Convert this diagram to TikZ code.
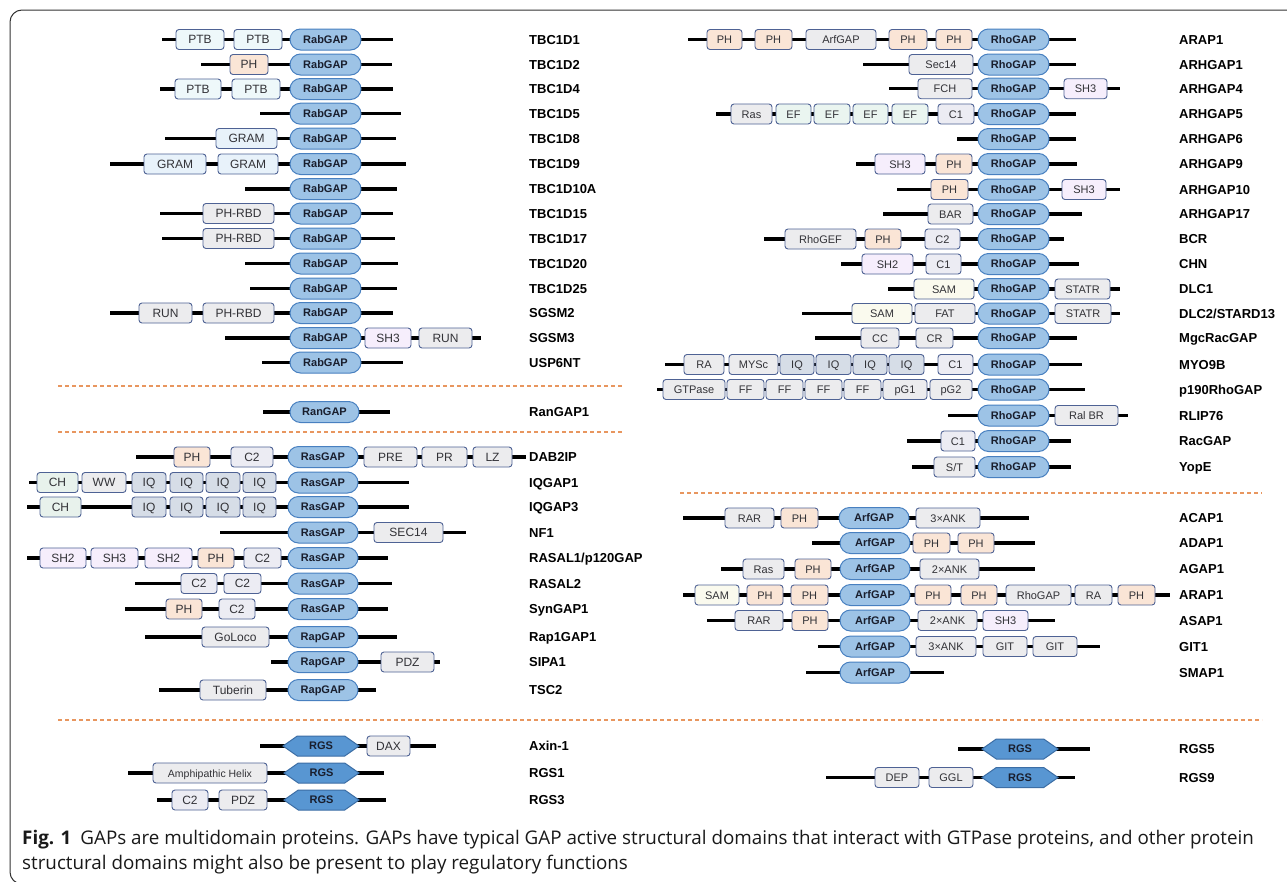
\documentclass[tikz,border=0pt]{standalone}
\usepackage{fontspec}
\setmainfont{Liberation Sans}
\newfontfamily\capfont{Open Sans}
\usetikzlibrary{shapes.symbols}
\definecolor{domline}{RGB}{78,98,148}
\definecolor{domtext}{RGB}{50,50,55}
\definecolor{gapline}{RGB}{72,128,192}
\definecolor{gapfill}{RGB}{157,195,230}
\definecolor{gaptext}{RGB}{25,30,45}
\definecolor{rgsline}{RGB}{60,110,165}
\definecolor{rgsfill}{RGB}{88,150,210}
\definecolor{sepcol}{RGB}{232,150,95}
\definecolor{cPTB}{RGB}{238,248,250}
\definecolor{cPH}{RGB}{250,229,214}
\definecolor{cGRAM}{RGB}{232,242,250}
\definecolor{cGRY}{RGB}{236,236,238}
\definecolor{cIQ}{RGB}{214,221,231}
\definecolor{cCH}{RGB}{232,242,236}
\definecolor{cSH}{RGB}{246,238,252}
\definecolor{cC}{RGB}{236,236,243}
\definecolor{cSAM}{RGB}{250,250,238}
\definecolor{cEF}{RGB}{234,245,240}
\def\domfs{12}
\tikzset{
  bb/.style={line width=3.5pt, black},
  dom/.style={draw=domline, line width=0.9pt, rounded corners=3pt, minimum height=20pt,
    inner sep=0pt, text height=8.4pt, text depth=0pt, font=\fontsize{\domfs}{14}\selectfont, text=domtext},
  ptb/.style={dom, fill=cPTB},
  ph/.style={dom, fill=cPH},
  gram/.style={dom, fill=cGRAM},
  gry/.style={dom, fill=cGRY},
  iq/.style={dom, fill=cIQ},
  ch/.style={dom, fill=cCH},
  sh/.style={dom, fill=cSH},
  cc/.style={dom, fill=cC},
  sam/.style={dom, fill=cSAM},
  ef/.style={dom, fill=cEF},
  gap/.style={draw=gapline, fill=gapfill, line width=1pt, rounded corners=10.5pt, minimum height=21pt,
    inner sep=0pt, text height=7.9pt, text depth=0pt, font=\bfseries\fontsize{11}{13}\selectfont, text=gaptext},
  rgs/.style={signal, signal to=east and west, signal pointer angle=70, draw=rgsline, fill=rgsfill,
    line width=1pt, minimum height=20pt, inner sep=0pt, text height=7.9pt, text depth=0pt,
    font=\bfseries\fontsize{11}{13}\selectfont, text=gaptext},
  rowlbl/.style={anchor=base west, inner sep=0pt, font=\bfseries\fontsize{13}{15}\selectfont, text=black},
  sepline/.style={draw=sepcol, line width=1.3pt, dash pattern=on 4pt off 3pt},
  frameline/.style={draw=black!80, line width=1pt, rounded corners=12pt},
  captxt/.style={anchor=base west, inner sep=0pt, font=\capfont\fontsize{18.8}{21}\selectfont, text=black!90},
}
\newcommand\Row[5]{\def\rowY{#2}\coordinate (#1s) at (#3,#2); \coordinate (#1e) at (#4,#2);
  \draw[bb] (#1s) -- (#1e); \node[rowlbl] (#1l) at (\LX,{#2+4.7}) {#5};}
\newcommand\Dom[5]{\node[#1, minimum width={(#4-#3)*1pt}] (#2) at ({(#3+#4)/2},\rowY) {#5};}
\begin{document}
\begin{tikzpicture}[x=1pt,y=-1pt]
\useasboundingbox (0,0) rectangle (1287,881);
\clip (0,0) rectangle (1287,881);
\fill[white] (0,0) rectangle (1287,881);
\draw[frameline] (1300,10) -- (10,10) -- (10,884) -- (1300,884);
% ---------------- left column ----------------
\def\LX{529}
\Row{a1}{39.5}{162}{393}{TBC1D1}
\Dom{ptb}{a1a}{176}{224}{PTB}\Dom{ptb}{a1b}{234}{282}{PTB}\Dom{gap}{a1g}{290}{361}{RabGAP}
\Row{a2}{64.5}{201}{392}{TBC1D2}
\Dom{ph}{a2a}{230}{268}{PH}\Dom{gap}{a2g}{290}{361}{RabGAP}
\Row{a3}{89}{160}{393}{TBC1D4}
\Dom{ptb}{a3a}{175}{221}{PTB}\Dom{ptb}{a3b}{232}{280}{PTB}\Dom{gap}{a3g}{290}{361}{RabGAP}
\Row{a4}{113.7}{260}{401}{TBC1D5}
\Dom{gap}{a4g}{290}{361}{RabGAP}
\Row{a5}{138.5}{165}{396}{TBC1D8}
\Dom{gram}{a5a}{216}{277}{GRAM}\Dom{gap}{a5g}{290}{361}{RabGAP}
\Row{a6}{164}{110}{406}{TBC1D9}
\Dom{gram}{a6a}{144}{206}{GRAM}\Dom{gram}{a6b}{218}{278}{GRAM}\Dom{gap}{a6g}{290}{361}{RabGAP}
\Row{a7}{189}{245}{397}{TBC1D10A}
\Dom{gap}{a7g}{290}{361}{RabGAP}
\Row{a8}{213.5}{160}{393}{TBC1D15}
\Dom{gry}{a8a}{203}{274}{PH-RBD}\Dom{gap}{a8g}{290}{361}{RabGAP}
\Row{a9}{238.5}{162}{395}{TBC1D17}
\Dom{gry}{a9a}{203}{274}{PH-RBD}\Dom{gap}{a9g}{290}{361}{RabGAP}
\Row{a10}{263.5}{245}{398}{TBC1D20}
\Dom{gap}{a10g}{290}{361}{RabGAP}
\Row{a11}{288.5}{250}{397}{TBC1D25}
\Dom{gap}{a11g}{290}{361}{RabGAP}
\Row{a12}{313}{110}{393}{SGSM2}
\Dom{gry}{a12a}{139}{192}{RUN}\Dom{gry}{a12b}{203}{274}{PH-RBD}\Dom{gap}{a12g}{290}{361}{RabGAP}
\Row{a13}{338}{225}{481}{SGSM3}
\Dom{gap}{a13g}{290}{361}{RabGAP}\Dom{sh}{a13a}{365}{411}{SH3}\Dom{gry}{a13b}{419}{472}{RUN}
\Row{a14}{362.5}{262}{403}{USP6NT}
\Dom{gap}{a14g}{290}{361}{RabGAP}
\coordinate (s1a) at (58,386); \coordinate (s1b) at (622,386); \draw[sepline] (s1a) -- (s1b);
\Row{b1}{412}{263}{390}{RanGAP1}
\Dom{gap}{b1g}{290}{359}{RanGAP}
\coordinate (s2a) at (58,432); \coordinate (s2b) at (622,432); \draw[sepline] (s2a) -- (s2b);
\Row{c1}{457}{136}{526}{DAB2IP}
\Dom{ph}{c1a}{174}{210}{PH}\Dom{cc}{c1b}{231}{273}{C2}\Dom{gap}{c1g}{288}{358}{RasGAP}
\Dom{gry}{c1c}{364}{417}{PRE}\Dom{gry}{c1d}{422}{467}{PR}\Dom{gry}{c1e}{473}{512}{LZ}
\Row{c2}{482.5}{29}{409}{IQGAP1}
\Dom{ch}{c2a}{37}{78}{CH}\Dom{gry}{c2b}{82}{126}{WW}\Dom{iq}{c2c}{132}{166}{IQ}\Dom{iq}{c2d}{170}{203}{IQ}
\Dom{iq}{c2e}{206}{240}{IQ}\Dom{iq}{c2f}{243}{276}{IQ}\Dom{gap}{c2g}{288}{358}{RasGAP}
\Row{c3}{507}{27}{409}{IQGAP3}
\Dom{ch}{c3a}{40}{81}{CH}\Dom{iq}{c3c}{132}{166}{IQ}\Dom{iq}{c3d}{170}{203}{IQ}
\Dom{iq}{c3e}{206}{240}{IQ}\Dom{iq}{c3f}{243}{276}{IQ}\Dom{gap}{c3g}{288}{358}{RasGAP}
\Row{c4}{532.5}{220}{466}{NF1}
\Dom{gap}{c4g}{288}{358}{RasGAP}\Dom{gry}{c4a}{374}{443}{SEC14}
\Row{c5}{558}{27}{388}{RASAL1/p120GAP}
\Dom{sh}{c5a}{40}{86}{SH2}\Dom{sh}{c5b}{91}{138}{SH3}\Dom{sh}{c5c}{145}{192}{SH2}
\Dom{ph}{c5d}{198}{234}{PH}\Dom{cc}{c5e}{244}{281}{C2}\Dom{gap}{c5g}{288}{358}{RasGAP}
\Row{c6}{583.5}{135}{392}{RASAL2}
\Dom{cc}{c6a}{181}{217}{C2}\Dom{cc}{c6b}{224}{261}{C2}\Dom{gap}{c6g}{288}{358}{RasGAP}
\Row{c7}{609}{125}{388}{SynGAP1}
\Dom{ph}{c7a}{166}{202}{PH}\Dom{cc}{c7b}{219}{255}{C2}\Dom{gap}{c7g}{288}{358}{RasGAP}
\Row{c8}{637}{145}{397}{Rap1GAP1}
\Dom{gry}{c8a}{202}{269}{GoLoco}\Dom{gap}{c8g}{288}{358}{RapGAP}
\Row{c9}{662}{271}{440}{SIPA1}
\Dom{gap}{c9g}{288}{358}{RapGAP}\Dom{gry}{c9a}{381}{434}{PDZ}
\Row{c10}{690}{159}{376}{TSC2}
\Dom{gry}{c10a}{200}{266}{Tuberin}\Dom{gap}{c10g}{288}{358}{RapGAP}
\coordinate (s3a) at (58,720); \coordinate (s3b) at (1262,720); \draw[sepline] (s3a) -- (s3b);
\Row{d1}{746}{260}{436}{Axin-1}
\Dom{rgs}{d1g}{283}{359}{RGS}\Dom{gry}{d1a}{367}{410}{DAX}
\Row{d2}{773}{128}{384}{RGS1}
\Dom{gry,font=\fontsize{10.5}{12}\selectfont}{d2a}{153}{267}{Amphipathic Helix}\Dom{rgs}{d2g}{284}{359}{RGS}
\Row{d3}{800}{157}{386}{RGS3}
\Dom{cc}{d3a}{172}{208}{C2}\Dom{gry}{d3b}{219}{267}{PDZ}\Dom{rgs}{d3g}{284}{359}{RGS}
% ---------------- right column ----------------
\def\LX{1179}
\def\domfs{11}
\Row{e1}{39.5}{688}{1076}{ARAP1}
\Dom{ph}{e1a}{707}{742}{PH}\Dom{ph}{e1b}{755}{792}{PH}\Dom{gry}{e1c}{806}{876}{ArfGAP}
\Dom{ph}{e1d}{889}{927}{PH}\Dom{ph}{e1e}{936}{972}{PH}\Dom{gap}{e1g}{978}{1049}{RhoGAP}
\Row{e2}{64.5}{863}{1076}{ARHGAP1}
\Dom{gry}{e2a}{909}{973}{Sec14}\Dom{gap}{e2g}{978}{1049}{RhoGAP}
\Row{e3}{88.7}{889}{1120}{ARHGAP4}
\Dom{gry}{e3a}{918}{972}{FCH}\Dom{gap}{e3g}{978}{1049}{RhoGAP}\Dom{sh}{e3b}{1064}{1107}{SH3}
\Row{e4}{114}{716}{1076}{ARHGAP5}
\Dom{gry}{e4a}{731}{772}{Ras}\Dom{ef}{e4b}{776}{811}{EF}\Dom{ef}{e4c}{814}{850}{EF}
\Dom{ef}{e4d}{853}{888}{EF}\Dom{ef}{e4e}{892}{928}{EF}\Dom{cc}{e4f}{938}{974}{C1}\Dom{gap}{e4g}{978}{1049}{RhoGAP}
\Row{e5}{139}{957}{1076}{ARHGAP6}
\Dom{gap}{e5g}{978}{1049}{RhoGAP}
\Row{e6}{164}{856}{1077}{ARHGAP9}
\Dom{sh}{e6a}{875}{925}{SH3}\Dom{ph}{e6b}{936}{972}{PH}\Dom{gap}{e6g}{978}{1049}{RhoGAP}
\Row{e7}{189.5}{897}{1120}{ARHGAP10}
\Dom{ph}{e7a}{931}{968}{PH}\Dom{gap}{e7g}{978}{1049}{RhoGAP}\Dom{sh}{e7b}{1062}{1106}{SH3}
\Row{e8}{214}{883}{1082}{ARHGAP17}
\Dom{gry}{e8a}{928}{973}{BAR}\Dom{gap}{e8g}{978}{1049}{RhoGAP}
\Row{e9}{239}{764}{1064}{BCR}
\Dom{gry}{e9a}{785}{856}{RhoGEF}\Dom{ph}{e9b}{865}{901}{PH}\Dom{cc}{e9c}{925}{960}{C2}\Dom{gap}{e9g}{978}{1049}{RhoGAP}
\Row{e10}{264}{841}{1079}{CHN}
\Dom{sh}{e10a}{862}{913}{SH2}\Dom{cc}{e10b}{926}{961}{C1}\Dom{gap}{e10g}{978}{1049}{RhoGAP}
\Row{e11}{289}{888}{1120}{DLC1}
\Dom{sam}{e11a}{914}{974}{SAM}\Dom{gap}{e11g}{978}{1049}{RhoGAP}\Dom{gry}{e11b}{1055}{1110}{STATR}
\Row{e12}{313.5}{802}{1120}{DLC2/STARD13}
\Dom{sam}{e12a}{852}{912}{SAM}\Dom{gry}{e12b}{915}{975}{FAT}\Dom{gap}{e12g}{978}{1049}{RhoGAP}\Dom{gry}{e12c}{1055}{1111}{STATR}
\Row{e13}{338}{815}{1077}{MgcRacGAP}
\Dom{gry}{e13a}{861}{899}{CC}\Dom{gry}{e13b}{916}{953}{CR}\Dom{gap}{e13g}{978}{1049}{RhoGAP}
\Row{e14}{364.5}{665}{1082}{MYO9B}
\Dom{gry}{e14a}{684}{724}{RA}\Dom{gry}{e14b}{729}{778}{MYSc}\Dom{iq}{e14c}{780}{814}{IQ}\Dom{iq}{e14d}{816}{851}{IQ}
\Dom{iq}{e14e}{853}{887}{IQ}\Dom{iq}{e14f}{889}{924}{IQ}\Dom{cc}{e14h}{938}{973}{C1}\Dom{gap}{e14g}{978}{1049}{RhoGAP}
\Row{e15}{389.5}{657}{1085}{p190RhoGAP}
\Dom{gry}{e15a}{663}{725}{GTPase}\Dom{gry}{e15b}{727}{764}{FF}\Dom{gry}{e15c}{766}{803}{FF}\Dom{gry}{e15d}{805}{842}{FF}
\Dom{gry}{e15e}{844}{881}{FF}\Dom{gry}{e15f}{883}{927}{pG1}\Dom{gry}{e15h}{930}{972}{pG2}\Dom{gap}{e15g}{978}{1049}{RhoGAP}
\Row{e16}{415.5}{948}{1128}{RLIP76}
\Dom{gap}{e16g}{978}{1049}{RhoGAP}\Dom{gry}{e16a}{1055}{1118}{Ral BR}
\Row{e17}{441}{907}{1071}{RacGAP}
\Dom{cc}{e17a}{941}{975}{C1}\Dom{gap}{e17g}{978}{1049}{RhoGAP}
\Row{e18}{467}{912}{1071}{YopE}
\Dom{gry}{e18a}{934}{975}{S/T}\Dom{gap}{e18g}{978}{1049}{RhoGAP}
\coordinate (s4a) at (680,493); \coordinate (s4b) at (1262,493); \draw[sepline] (s4a) -- (s4b);
\Row{f1}{518}{683}{1029}{ACAP1}
\Dom{gry}{f1a}{725}{774}{RAR}\Dom{ph}{f1b}{781}{818}{PH}\Dom{gap}{f1g}{839}{909}{ArfGAP}\Dom{gry}{f1c}{916}{980}{3×ANK}
\Row{f2}{543}{812}{1035}{ADAP1}
\Dom{gap}{f2g}{840}{910}{ArfGAP}\Dom{ph}{f2a}{913}{950}{PH}\Dom{ph}{f2b}{958}{994}{PH}
\Row{f3}{569}{721}{1035}{AGAP1}
\Dom{gry}{f3a}{743}{784}{Ras}\Dom{ph}{f3b}{795}{831}{PH}\Dom{gap}{f3g}{840}{910}{ArfGAP}\Dom{gry}{f3c}{920}{979}{2×ANK}
\Row{f4}{595}{683}{1170}{ARAP1}
\Dom{sam}{f4a}{695}{739}{SAM}\Dom{ph}{f4b}{747}{783}{PH}\Dom{ph}{f4c}{791}{828}{PH}\Dom{gap}{f4g}{840}{910}{ArfGAP}
\Dom{ph}{f4d}{915}{951}{PH}\Dom{ph}{f4e}{961}{997}{PH}\Dom{gry}{f4f}{1006}{1071}{RhoGAP}\Dom{gry}{f4h}{1075}{1112}{RA}\Dom{ph}{f4i}{1118}{1155}{PH}
\Row{f5}{620.5}{707}{1055}{ASAP1}
\Dom{gry}{f5a}{735}{783}{RAR}\Dom{ph}{f5b}{792}{828}{PH}\Dom{gap}{f5g}{840}{910}{ArfGAP}\Dom{gry}{f5c}{918}{977}{2×ANK}\Dom{sh}{f5d}{983}{1028}{SH3}
\Row{f6}{646.5}{818}{1100}{GIT1}
\Dom{gap}{f6g}{840}{910}{ArfGAP}\Dom{gry}{f6a}{916}{976}{3×ANK}\Dom{gry}{f6b}{983}{1027}{GIT}\Dom{gry}{f6c}{1033}{1077}{GIT}
\Row{f7}{672.5}{806}{944}{SMAP1}
\Dom{gap}{f7g}{840}{910}{ArfGAP}
\Row{g1}{749}{958}{1090}{RGS5}
\Dom{rgs}{g1g}{982}{1058}{RGS}
\Row{g2}{777.5}{826}{1075}{RGS9}
\Dom{gry}{g2a}{875}{919}{DEP}\Dom{gry}{g2b}{929}{973}{GGL}\Dom{rgs}{g2g}{982}{1058}{RGS}
% ---------------- caption ----------------
\node[captxt] (cap1) at (22,844) {\textbf{Fig. 1}\hspace{9pt}GAPs are multidomain proteins. GAPs have typical GAP active structural domains that interact with GTPase proteins, and other protein};
\node[captxt] (cap2) at (22,869) {structural domains might also be present to play regulatory functions};
\end{tikzpicture}
\end{document}
